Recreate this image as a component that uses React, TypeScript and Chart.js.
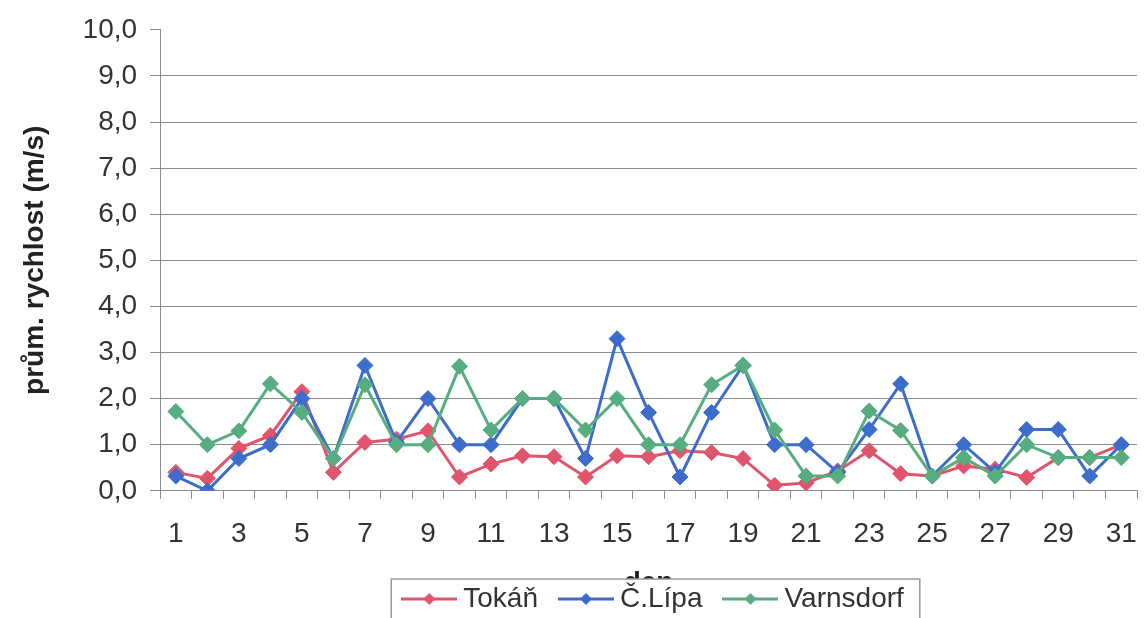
import React, { useEffect, useRef } from 'react';
import { Chart, registerables } from 'chart.js';

Chart.register(...registerables);

const days = ['1', '2', '3', '4', '5', '6', '7', '8', '9', '10', '11', '12', '13', '14', '15', '16', '17', '18', '19', '20', '21', '22', '23', '24', '25', '26', '27', '28', '29', '30', '31'];

const tokan = [0.4, 0.27, 0.92, 1.2, 2.15, 0.4, 1.05, 1.12, 1.3, 0.3, 0.58, 0.76, 0.74, 0.3, 0.76, 0.74, 0.87, 0.83, 0.7, 0.12, 0.17, 0.43, 0.87, 0.37, 0.32, 0.54, 0.47, 0.29, 0.72, 0.72, 1.0];
const clipa = [0.32, 0.0, 0.7, 1.0, 2.0, 0.7, 2.72, 1.05, 2.0, 1.0, 1.0, 2.0, 2.0, 0.7, 3.3, 1.7, 0.3, 1.7, 2.72, 1.0, 1.0, 0.4, 1.33, 2.32, 0.32, 1.0, 0.4, 1.33, 1.33, 0.32, 1.0];
const varnsdorf = [1.72, 1.0, 1.3, 2.32, 1.7, 0.7, 2.3, 1.0, 1.0, 2.7, 1.32, 2.0, 2.0, 1.32, 2.0, 1.0, 1.0, 2.3, 2.72, 1.32, 0.32, 0.32, 1.73, 1.31, 0.32, 0.72, 0.32, 1.0, 0.72, 0.72, 0.72];

const seriesNames = ['Tokáň', 'Č.Lípa', 'Varnsdorf'];
const seriesColors = ['#e0556c', '#3d6dcb', '#56ad80'];

const yTickLabels = ['0,0', '1,0', '2,0', '3,0', '4,0', '5,0', '6,0', '7,0', '8,0', '9,0', '10,0'];
const yTitle = 'prům. rychlost (m/s)';
const xTitle = 'den';

const FONT = "'Liberation Sans', Arial, Helvetica, sans-serif";
const GRID = '#8c8c8c';
const LEGEND_PAD = 28;

function makeSymbol(color: string): HTMLCanvasElement {
  const c = document.createElement('canvas');
  c.width = 56;
  c.height = 14;
  const g = c.getContext('2d')!;
  g.strokeStyle = color;
  g.lineWidth = 3;
  g.beginPath();
  g.moveTo(0, 7);
  g.lineTo(56, 7);
  g.stroke();
  g.fillStyle = color;
  g.beginPath();
  g.moveTo(28, 1);
  g.lineTo(34, 7);
  g.lineTo(28, 13);
  g.lineTo(22, 7);
  g.closePath();
  g.fill();
  return c;
}

const legendFrame = {
  id: 'legendFrame',
  afterLayout(chart: any) {
    const lg = chart.legend;
    if (!lg) return;
    const ca = chart.chartArea;
    const shift = (ca.left + ca.right) / 2 - (lg.left + lg.right) / 2 + 8;
    lg.left += shift;
    lg.right += shift;
    lg.top = 585 - LEGEND_PAD;
    lg.bottom = chart.height + 20;
    lg.height = lg.bottom - lg.top;
  },
  afterDraw(chart: any) {
    const lg = chart.legend;
    if (!lg || !lg.legendHitBoxes || !lg.legendHitBoxes.length) return;
    const hb = lg.legendHitBoxes;
    const last = hb[hb.length - 1];
    const l = hb[0].left - 18;
    const r = last.left + last.width + 16;
    const t = 579;
    const ctx = chart.ctx;
    ctx.save();
    ctx.fillStyle = '#ffffff';
    ctx.fillRect(l, t, r - l, chart.height - t + 10);
    ctx.strokeStyle = '#9a9a9a';
    ctx.lineWidth = 1.5;
    ctx.strokeRect(l, t, r - l, chart.height - t + 10);
    ctx.restore();
    lg.draw();
  },
};

export default function App() {
  const ref = useRef<HTMLCanvasElement | null>(null);

  useEffect(() => {
    if (!ref.current) return;
    const symbols = seriesColors.map(makeSymbol);
    const values = [tokan, clipa, varnsdorf];
    const chart = new Chart(ref.current, {
      type: 'line',
      data: {
        labels: days,
        datasets: values.map((v, i) => ({
          label: seriesNames[i],
          data: v,
          borderColor: seriesColors[i],
          backgroundColor: seriesColors[i],
          borderWidth: 3,
          pointStyle: 'rectRot',
          pointRadius: 8,
          pointBorderWidth: 1,
          pointBackgroundColor: seriesColors[i],
          pointBorderColor: seriesColors[i],
          tension: 0,
          fill: false,
          order: 3 - i,
        })),
      },
      options: {
        responsive: false,
        animation: false,
        layout: { padding: { top: 28, left: 0, right: 0, bottom: -7 } },
        plugins: {
          tooltip: { enabled: false },
          legend: {
            position: 'bottom',
            maxHeight: 17,
            labels: {
              usePointStyle: true,
              pointStyleWidth: 40,
              padding: LEGEND_PAD,
              color: '#333333',
              font: { family: FONT, size: 28 },
              sort: (a: any, b: any) => a.datasetIndex - b.datasetIndex,
              generateLabels: (c: any) => {
                const items = (Chart as any).defaults.plugins.legend.labels.generateLabels(c);
                items.forEach((it: any) => {
                  it.pointStyle = symbols[it.datasetIndex];
                });
                return items;
              },
            },
          },
        },
        scales: {
          x: {
            type: 'category',
            offset: true,
            grid: {
              offset: true,
              drawOnChartArea: false,
              drawTicks: true,
              tickLength: 8,
              color: GRID,
              tickColor: GRID,
            },
            border: { color: GRID, width: 1 },
            ticks: {
              autoSkip: false,
              maxRotation: 0,
              minRotation: 0,
              padding: 0,
              color: '#333333',
              font: { family: FONT, size: 28, lineHeight: 2.557 },
              callback: (_v: any, i: number) => (i % 2 === 0 ? days[i] : ''),
            },
            title: {
              display: true,
              text: xTitle,
              color: '#222222',
              font: { family: FONT, size: 28, weight: 'bold' },
              padding: { top: -4, bottom: 8 },
            },
          },
          y: {
            min: 0,
            max: 10,
            grid: {
              color: (ctx: any) => (ctx.tick && ctx.tick.value === 10 ? 'rgba(0,0,0,0)' : GRID),
              tickColor: GRID,
              tickLength: 10,
              lineWidth: 1,
            },
            border: { color: GRID, width: 1 },
            ticks: {
              stepSize: 1,
              padding: 13,
              color: '#333333',
              font: { family: FONT, size: 28 },
              callback: (_v: any, i: number) => yTickLabels[i],
            },
            title: {
              display: true,
              text: yTitle,
              color: '#222222',
              font: { family: FONT, size: 28, weight: 'bold' },
              padding: { top: 18, bottom: 18 },
            },
          },
        },
      },
      plugins: [legendFrame],
    } as any);
    return () => chart.destroy();
  }, []);

  return (
    <div style={{ position: 'absolute', left: 0, top: 0, width: 1146, height: 618, background: '#ffffff' }}>
      <canvas ref={ref} width={1146} height={618} />
    </div>
  );
}
